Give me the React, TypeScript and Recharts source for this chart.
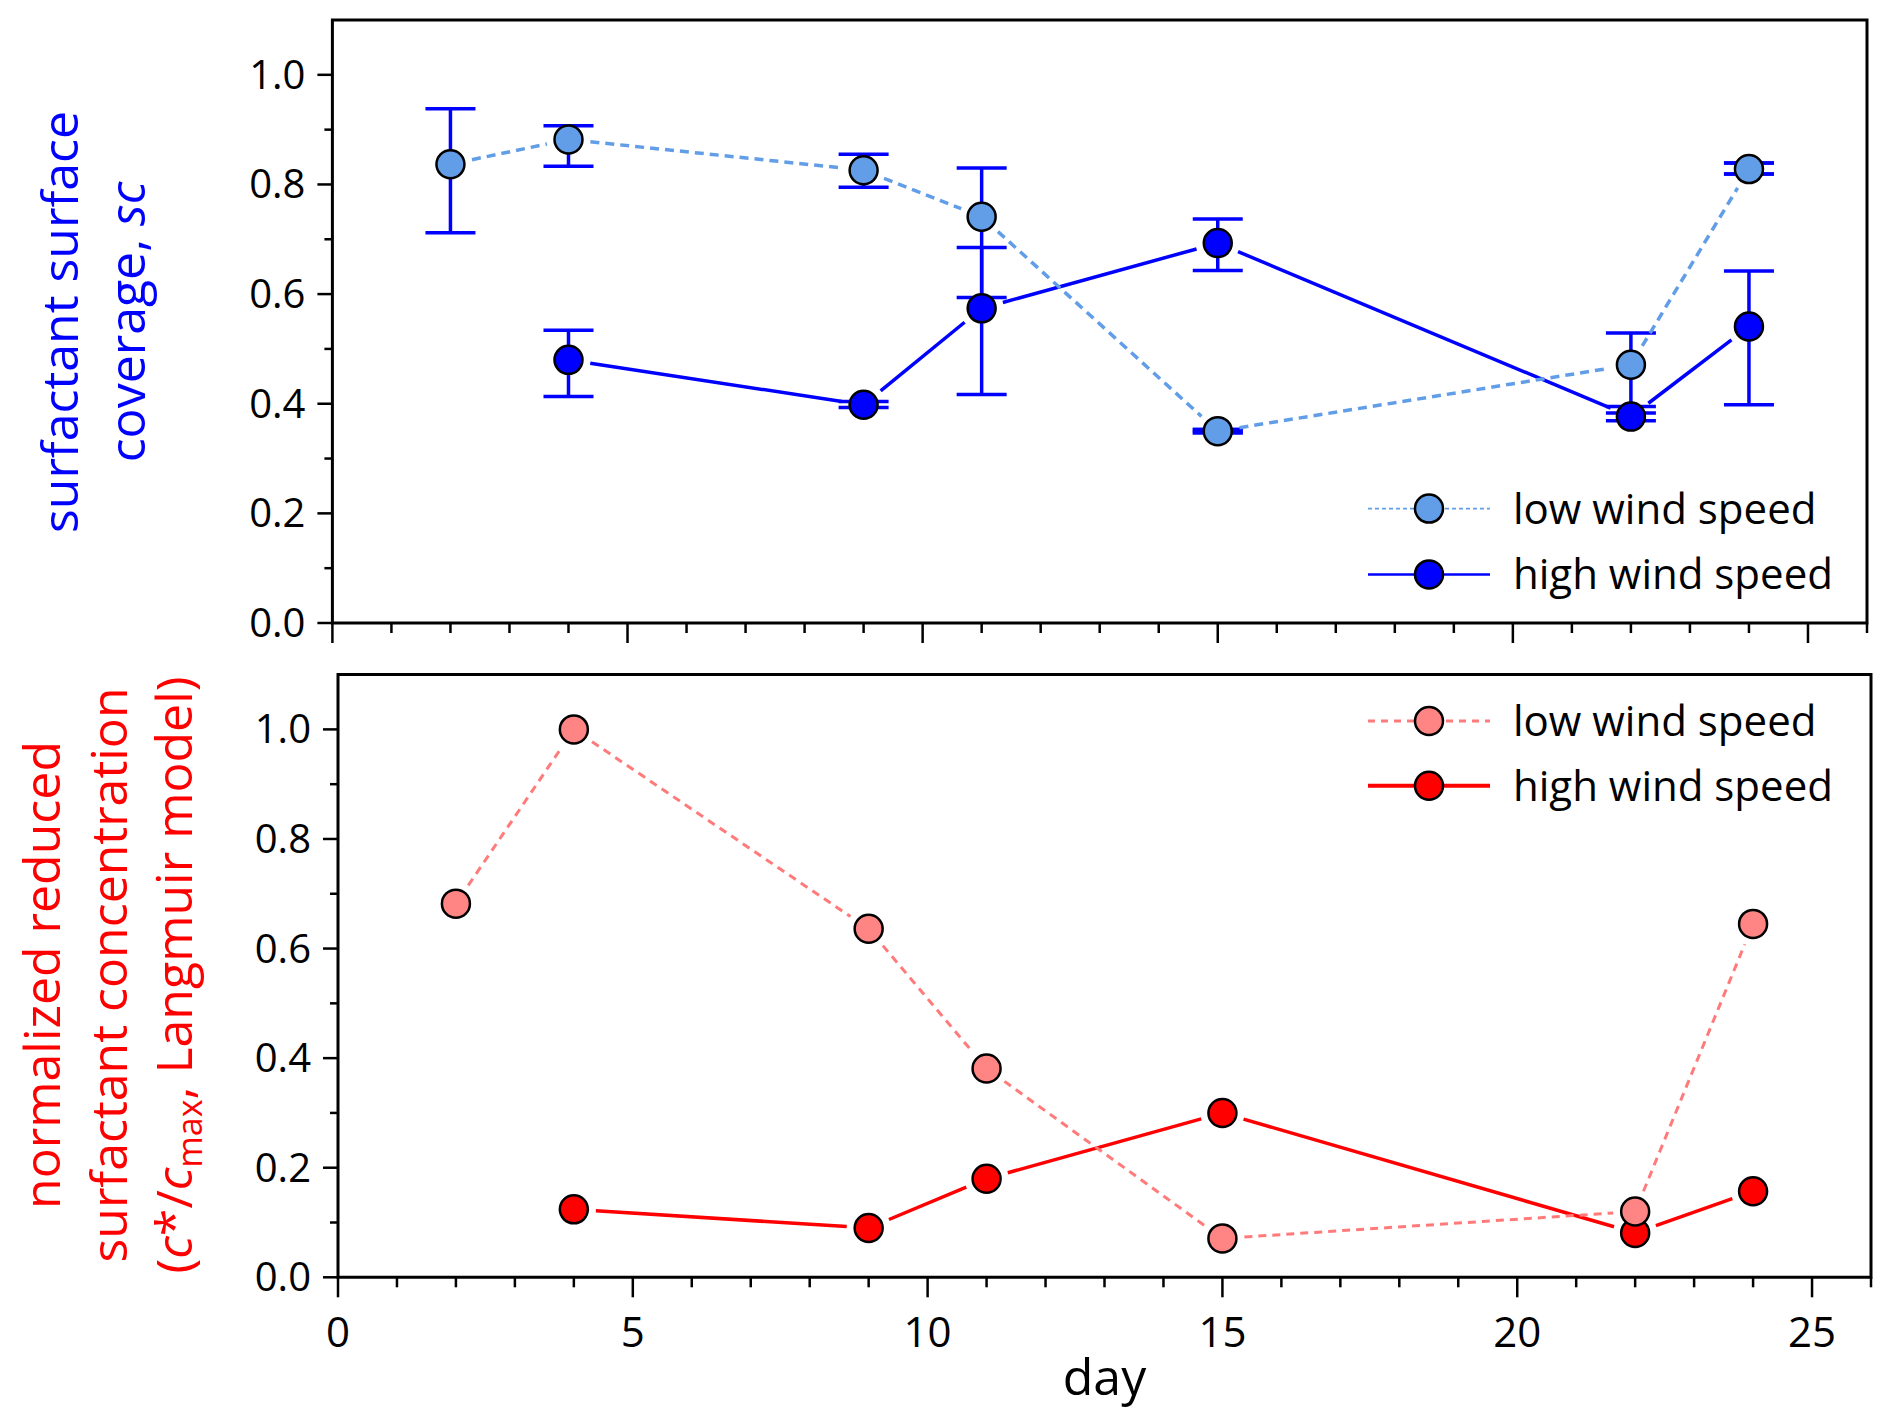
import React from 'react';
import { ScatterChart, Scatter, XAxis, YAxis, ErrorBar, ReferenceArea, Legend } from 'recharts';

// ---------- data ----------
const lowDays = [2, 4, 9, 11, 15, 22, 24];
const highDays = [4, 9, 11, 15, 22, 24];

// surfactant surface coverage, sc
const scLow = [0.837, 0.882, 0.826, 0.741, 0.350, 0.471, 0.828];
const scLowErrDown = [0.125, 0.049, 0.031, 0.147, 0.003, 0.076, 0.009];
const scLowErrUp = [0.101, 0.025, 0.029, 0.089, 0.003, 0.058, 0.011];
const scLowBarOnTop = [false, false, false, false, true, false, true];
const scHigh = [0.480, 0.398, 0.574, 0.693, 0.3765, 0.541];
const scHighErrDown = [0.067, 0.005, 0.157, 0.050, 0.0075, 0.143];
const scHighErrUp = [0.054, 0.006, 0.111, 0.044, 0.0065, 0.101];

// normalized reduced surfactant concentration c*/cmax
const cLow = [0.682, 1.000, 0.636, 0.381, 0.071, 0.120, 0.645];
const cHigh = [0.124, 0.090, 0.180, 0.300, 0.081, 0.157];

const dayTicks = Array.from({ length: 27 }, (_, i) => i);
const yTicks = [0, 0.1, 0.2, 0.3, 0.4, 0.5, 0.6, 0.7, 0.8, 0.9, 1.0];
const legendLabels = ['low wind speed', 'high wind speed'];

// ---------- styles ----------
const FONT = '"Open Sans", sans-serif';
const LIGHT_BLUE = '#629DE8';
const BLUE = '#0000FF';
const PINK = '#FF8585';
const PINK_LINE = '#FF7A7A';
const RED = '#FF0000';
const R = 14;

const scLowData = lowDays.map((d, i) => ({ x: d, y: scLow[i], err: [scLowErrDown[i], scLowErrUp[i]] }));
const scLowTopData = scLowData.filter((_, i) => scLowBarOnTop[i]);
const scHighData = highDays.map((d, i) => ({ x: d, y: scHigh[i], err: [scHighErrDown[i], scHighErrUp[i]] }));
const cLowData = lowDays.map((d, i) => ({ x: d, y: cLow[i] }));
const cHighData = highDays.map((d, i) => ({ x: d, y: cHigh[i] }));

const dot = (fill: string) => (p: any) => (
  <circle cx={p.cx} cy={p.cy} r={R} fill={fill} stroke="#000" strokeWidth={2.5} />
);
const noShape = () => <g />;

const gappedLine = (stroke: string, width: number, dash?: string) => (p: any) => {
  const pts = p.points || [];
  const gap = 22;
  const segs: any[] = [];
  for (let i = 0; i < pts.length - 1; i++) {
    const a = pts[i];
    const b = pts[i + 1];
    const dx = b.x - a.x;
    const dy = b.y - a.y;
    const len = Math.sqrt(dx * dx + dy * dy);
    if (len <= 2 * gap) continue;
    const ux = dx / len;
    const uy = dy / len;
    segs.push(
      <line
        key={i}
        x1={a.x + ux * gap}
        y1={a.y + uy * gap}
        x2={b.x - ux * gap}
        y2={b.y - uy * gap}
        stroke={stroke}
        strokeWidth={width}
        strokeDasharray={dash}
        fill="none"
      />
    );
  }
  return <g>{segs}</g>;
};

const makeXTick = (showLabels: boolean) => (p: any) => {
  const { x, y, payload } = p;
  const v = payload.value;
  const major = v % 5 === 0;
  return (
    <g>
      <line x1={x} x2={x} y1={y} y2={y + (major ? 20 : 10)} stroke="#000" strokeWidth={2.5} />
      {showLabels && major && (
        <text x={x} y={y + 70} textAnchor="middle" fontSize={42} fontFamily={FONT} fill="#000">
          {v}
        </text>
      )}
    </g>
  );
};

const YTick = (p: any) => {
  const { x, y, payload } = p;
  const v = payload.value;
  const major = Math.round(v * 10) % 2 === 0;
  return (
    <g>
      <line x1={x - (major ? 15 : 8)} x2={x} y1={y} y2={y} stroke="#000" strokeWidth={2.5} />
      {major && (
        <text x={x - 27} y={y + 14} textAnchor="end" fontSize={40} fontFamily={FONT} fill="#000">
          {v.toFixed(1)}
        </text>
      )}
    </g>
  );
};

type LegendRow = { label: string; fill: string; stroke: string; width: number; dash?: string; y: number };

const LegendBox = ({ rows }: { rows: LegendRow[] }) => (
  <svg width={560} height={150} style={{ display: 'block', overflow: 'visible' }}>
    {rows.map((r, i) => (
      <g key={i}>
        <line x1={28} x2={150} y1={r.y} y2={r.y} stroke={r.stroke} strokeWidth={r.width} strokeDasharray={r.dash} />
        <circle cx={89} cy={r.y} r={R} fill={r.fill} stroke="#000" strokeWidth={2.5} />
        <text x={173} y={r.y + 15} fontSize={42} fontFamily={FONT} fill="#000">
          {r.label}
        </text>
      </g>
    ))}
  </svg>
);

const topTitle = () => (
  <g fontFamily={FONT} fontSize={50} fill={BLUE} textAnchor="middle">
    <text x={78} y={322} transform="rotate(-90, 78, 322)">surfactant surface</text>
    <text x={145} y={322} transform="rotate(-90, 145, 322)">
      coverage, <tspan fontStyle="italic">sc</tspan>
    </text>
  </g>
);

const bottomTitle = () => (
  <g fontFamily={FONT} fontSize={50} fill={RED} textAnchor="middle">
    <text x={60} y={335} transform="rotate(-90, 60, 335)">normalized reduced</text>
    <text x={127} y={335} transform="rotate(-90, 127, 335)">surfactant concentration</text>
    <text x={192} y={335} transform="rotate(-90, 192, 335)">
      (<tspan fontStyle="italic">c</tspan>*/<tspan fontStyle="italic">c</tspan>
      <tspan fontSize={34} dy={10}>max</tspan>
      <tspan dy={-10}>, Langmuir model)</tspan>
    </text>
  </g>
);

const dayLabel = (p: any) => {
  const vb = p.viewBox || { x: 338, y: 637.3, width: 1533, height: 146.7 };
  return (
    <text x={vb.x + vb.width / 2} y={vb.y + 117.7} textAnchor="middle" fontSize={50} fontFamily={FONT} fill="#000">
      day
    </text>
  );
};

export default function App() {
  return (
    <div style={{ position: 'absolute', left: 0, top: 0, width: 1892, height: 1424, background: '#fff' }}>
      {/* top panel */}
      <div style={{ position: 'absolute', left: 0, top: 0 }}>
        <ScatterChart width={1892} height={660} margin={{ top: 20, right: 25, left: 252.4, bottom: 0 }}>
          <XAxis
            type="number"
            dataKey="x"
            domain={[0, 26]}
            ticks={dayTicks}
            interval={0}
            tickSize={0}
            tickMargin={0}
            tickLine={false}
            axisLine={false}
            height={37}
            tick={makeXTick(false)}
            allowDataOverflow
          />
          <YAxis
            type="number"
            dataKey="y"
            domain={[0, 1.1]}
            ticks={yTicks}
            interval={0}
            tickSize={0}
            tickMargin={0}
            tickLine={false}
            axisLine={false}
            width={80}
            tick={YTick}
            allowDataOverflow
            label={{ content: topTitle }}
          />
          <ReferenceArea x1={0} x2={26} y1={0} y2={1.1} fill="none" stroke="#000" strokeWidth={3} ifOverflow="visible" />
          <Scatter
            data={scHighData}
            isAnimationActive={false}
            shape={dot(BLUE)}
            line={gappedLine(BLUE, 3.5)}
            lineType="joint"
          >
            <ErrorBar dataKey="err" direction="y" width={25} strokeWidth={3.5} stroke={BLUE} />
          </Scatter>
          <Scatter
            data={scLowData}
            isAnimationActive={false}
            shape={dot(LIGHT_BLUE)}
            line={gappedLine(LIGHT_BLUE, 3.5, '9 6')}
            lineType="joint"
          >
            <ErrorBar dataKey="err" direction="y" width={25} strokeWidth={3.5} stroke={BLUE} />
          </Scatter>
          <Scatter data={scLowTopData} isAnimationActive={false} shape={noShape}>
            <ErrorBar dataKey="err" direction="y" width={25} strokeWidth={3.5} stroke={BLUE} />
          </Scatter>
          <Legend
            layout="horizontal"
            verticalAlign="middle"
            align="center"
            wrapperStyle={{ left: 1340, top: 470, width: 560, height: 150 }}
            content={() => (
              <LegendBox
                rows={[
                  { label: legendLabels[0], fill: LIGHT_BLUE, stroke: LIGHT_BLUE, width: 1.8, dash: '4 3', y: 38.6 },
                  { label: legendLabels[1], fill: BLUE, stroke: BLUE, width: 2.5, y: 104.4 },
                ]}
              />
            )}
          />
        </ScatterChart>
      </div>

      {/* bottom panel */}
      <div style={{ position: 'absolute', left: 0, top: 640 }}>
        <ScatterChart width={1892} height={784} margin={{ top: 34.6, right: 21, left: 258, bottom: 0 }}>
          <XAxis
            type="number"
            dataKey="x"
            domain={[0, 26]}
            ticks={dayTicks}
            interval={0}
            tickSize={0}
            tickMargin={0}
            tickLine={false}
            axisLine={false}
            height={146.7}
            tick={makeXTick(true)}
            allowDataOverflow
            label={{ content: dayLabel }}
          />
          <YAxis
            type="number"
            dataKey="y"
            domain={[0, 1.1]}
            ticks={yTicks}
            interval={0}
            tickSize={0}
            tickMargin={0}
            tickLine={false}
            axisLine={false}
            width={80}
            tick={YTick}
            allowDataOverflow
            label={{ content: bottomTitle }}
          />
          <ReferenceArea x1={0} x2={26} y1={0} y2={1.1} fill="none" stroke="#000" strokeWidth={3} ifOverflow="visible" />
          <Scatter
            data={cHighData}
            isAnimationActive={false}
            shape={dot(RED)}
            line={gappedLine(RED, 3.5)}
            lineType="joint"
          />
          <Scatter
            data={cLowData}
            isAnimationActive={false}
            shape={dot(PINK)}
            line={gappedLine(PINK_LINE, 3, '8 6')}
            lineType="joint"
          />
          <Legend
            layout="horizontal"
            verticalAlign="middle"
            align="center"
            wrapperStyle={{ left: 1340, top: 40, width: 560, height: 150 }}
            content={() => (
              <LegendBox
                rows={[
                  { label: legendLabels[0], fill: PINK, stroke: PINK_LINE, width: 3, dash: '7 6', y: 41 },
                  { label: legendLabels[1], fill: RED, stroke: RED, width: 4, y: 105.7 },
                ]}
              />
            )}
          />
        </ScatterChart>
      </div>
    </div>
  );
}
